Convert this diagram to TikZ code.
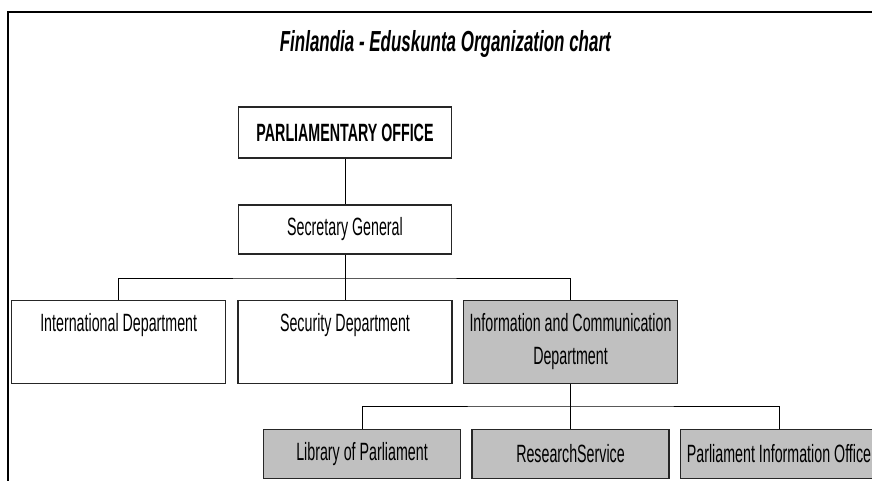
\documentclass[tikz,border=0pt]{standalone}
\usepackage{fontspec}
\setmainfont{Liberation Sans}[FakeStretch=0.57]
\newfontfamily\titlefont{Liberation Sans}[FakeStretch=0.585]
\definecolor{boxgray}{HTML}{C0C0C0}
\begin{document}
\begin{tikzpicture}[x=1pt,y=-1pt,
  box/.style={draw=black!85, line width=1.3pt, inner sep=0pt, align=center,
    font=\fontsize{25}{32.7}\selectfont},
  topbox/.style={box, minimum width=213pt},
  midbox/.style={box, minimum width=214pt, minimum height=83pt},
  lowbox/.style={box, fill=boxgray, minimum width=197pt, minimum height=49pt},
  link/.style={draw=black, line width=0.9pt},
  frame/.style={draw=black, line width=2.5pt}]
\clip (0,0) rectangle (872,480);
\fill[white] (0,0) rectangle (872,480);
% frame
\draw[frame] (7.8,482) -- (7.8,12.2) -- (874,12.2);
% title
\node[font=\titlefont\fontsize{29}{32}\selectfont\bfseries\itshape, anchor=base, inner sep=0pt] (title) at (445.3,51.7) {Finlandia - Eduskunta Organization chart};
% boxes
\node[topbox, minimum height=51pt, font=\fontsize{25}{32.7}\selectfont\bfseries] (po) at (345,132.5) {PARLIAMENTARY OFFICE};
\node[topbox, minimum height=49pt] (sg) at (345,229.5) {Secretary General};
\node[midbox] (intl) at (118.7,341.7) {International Department\\\phantom{Department}};
\node[midbox] (sec) at (345,341.7) {Security Department\\\phantom{Department}};
\node[midbox, fill=boxgray] (info) at (570.5,341.7) {Information and Communication\\Department};
\node[lowbox] (lib) at (362,454) {Library of Parliament};
\node[lowbox] (res) at (570.5,454) {ResearchService};
\node[lowbox] (pio) at (779,454) {Parliament Information Office};
% bus coordinates
\coordinate (bus1) at (345,278);
\coordinate (bus2) at (570.5,406);
% connectors
\draw[link] (po) -- (sg);
\draw[link] (sg) -- (sec);
\draw[link] (intl.north) |- (bus1) -| (info.north);
\draw[link] (info) -- (res);
\draw[link] (lib.north) |- (bus2) -| (pio.north);
\end{tikzpicture}
\end{document}
